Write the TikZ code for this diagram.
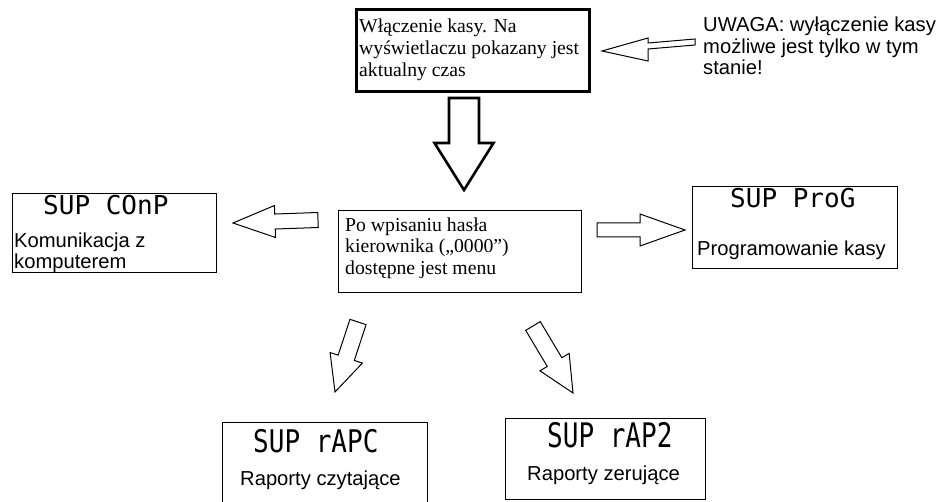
\documentclass[tikz,border=0pt]{standalone}
\usepackage{fontspec}
\setmainfont{Liberation Serif}
\newfontfamily\arialf{Liberation Sans}
\newfontfamily\lcdf{DejaVu Sans Mono}
\usetikzlibrary{calc}
\newcommand\blkarrow[6]{%
  \path (#2) coordinate (bT) (#3) coordinate (bP) ($(#3)!#6!(#2)$) coordinate (bH);
  \draw[#1] ($(bT)!#4!90:(bP)$) -- ($(bH)!#4!90:(bP)$) -- ($(bH)!#5!90:(bP)$) -- (bP)
    -- ($(bH)!#5!-90:(bP)$) -- ($(bH)!#4!-90:(bP)$) -- ($(bT)!#4!-90:(bP)$) -- cycle;}
\tikzset{
  box/.style={draw=black, fill=white, line width=1pt, inner sep=0pt, anchor=north west},
  thickbox/.style={box, line width=2.6pt},
  serif/.style={font=\fontsize{19.7}{22}\selectfont, inner sep=0pt, anchor=base west},
  sans/.style={font=\arialf\fontsize{20.2}{22}\selectfont, inner sep=0pt, anchor=base west},
  lcd/.style={font=\lcdf\fontsize{26}{26}\selectfont, inner sep=0pt, anchor=base west},
  barrow/.style={draw=black, fill=white, line width=1pt, line join=miter},
  bigarrow/.style={barrow, line width=2.6pt}
}
\begin{document}
\begin{tikzpicture}[x=1pt,y=-1pt]
\clip (0,0) rectangle (940,502);
\fill[white] (0,0) rectangle (940,502);
% boxes
\node[thickbox, minimum width=233pt, minimum height=82pt] (top) at (355,8) {};
\node[box, minimum width=243pt, minimum height=82pt] (mid) at (338,210) {};
\node[box, minimum width=204pt, minimum height=79pt] (left) at (12,193) {};
\node[box, minimum width=205pt, minimum height=82pt] (right) at (692,186) {};
\node[box, minimum width=205pt, minimum height=90pt] (bl) at (222,422) {};
\node[box, minimum width=200pt, minimum height=81pt] (br) at (505,418) {};
% top box text
\node[serif] (t1) at (359,33) {Włączenie kasy. Na};
\node[serif] (t2) at (359,55) {wyświetlaczu pokazany jest};
\node[serif] (t3) at (359,77) {aktualny czas};
% middle box text
\node[serif] (m1) at (345,232) {Po wpisaniu hasła};
\node[serif] (m2) at (345,253) {kierownika („0000”)};
\node[serif] (m3) at (345,275) {dostępne jest menu};
% UWAGA note
\node[sans] (u1) at (703,32) {UWAGA: wyłączenie kasy};
\node[sans] (u2) at (703,53.5) {możliwe jest tylko w tym};
\node[sans] (u3) at (703,75) {stanie!};
% left box
\node[lcd] (l0) at (43,215) {SUP COnP};
\node[sans] (l1) at (14,248) {Komunikacja z};
\node[sans] (l2) at (14,269) {komputerem};
% right box
\node[lcd] (r0) at (730,208) {SUP ProG};
\node[sans] (r1) at (697,256) {Programowanie kasy};
% bottom left
\node[lcd] (bl0) at (253,453) {\scalebox{1}[1.2]{SUP rAPC}};
\node[sans] (bl1) at (240,485) {Raporty czytające};
% bottom right
\node[lcd] (br0) at (547,448) {\scalebox{1}[1.3]{SUP rAP2}};
\node[sans] (br1) at (527,480) {Raporty zerujące};
% arrows
\coordinate (dT) at (464,98);  \coordinate (dP) at (464,190);
\blkarrow{bigarrow}{dT}{dP}{15pt}{29.5pt}{47pt}
\coordinate (lT) at (318,220); \coordinate (lP) at (233,223);
\blkarrow{barrow}{lT}{lP}{7.5pt}{16pt}{42pt}
\coordinate (rT) at (597,230); \coordinate (rP) at (685,230);
\blkarrow{barrow}{rT}{rP}{7pt}{16pt}{45pt}
\coordinate (ldT) at (358,322); \coordinate (ldP) at (335,392);
\blkarrow{barrow}{ldT}{ldP}{8.5pt}{17pt}{36pt}
\coordinate (rdT) at (533,326); \coordinate (rdP) at (573,393);
\blkarrow{barrow}{rdT}{rdP}{8.5pt}{17pt}{36pt}
% UWAGA arrow
\coordinate (uP) at (602,51);
\draw[barrow] (uP) -- (648,38) -- (648,43) -- (695,39) -- (695,45) -- (648,49) -- (648,61) -- cycle;
\end{tikzpicture}
\end{document}
